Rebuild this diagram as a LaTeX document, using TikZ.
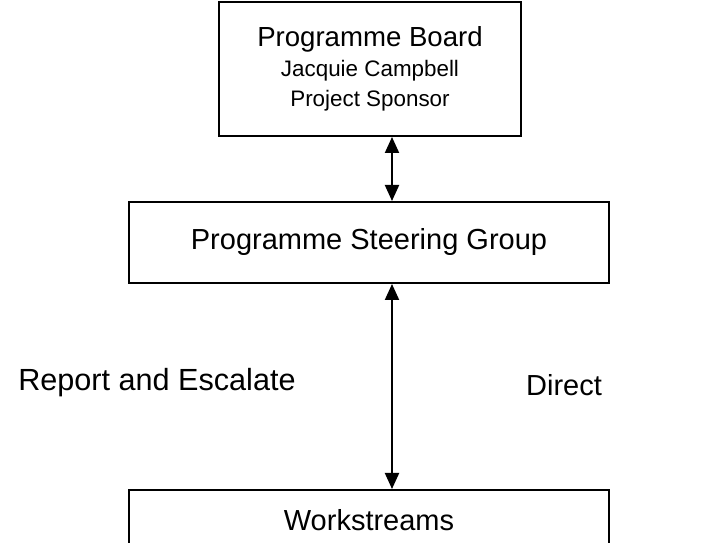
\documentclass[tikz,border=0pt]{standalone}
\usepackage{fontspec}
\setmainfont{Liberation Sans}
\usetikzlibrary{arrows.meta,positioning}

\newcommand\headfont{\fontsize{14.5bp}{15bp}\selectfont}
\newcommand\boardfont{\fontsize{13.8bp}{15bp}\selectfont}
\newcommand\subfont{\fontsize{11.2bp}{15bp}\selectfont}

\tikzset{
  orgbox/.style={draw, line width=1bp, align=center, inner sep=0pt, font=\headfont},
  link/.style={line width=1bp, {Triangle[width=7bp,length=8bp]}-{Triangle[width=7bp,length=8bp]}},
  note/.style={inner sep=0pt, font=\headfont}
}

\begin{document}
\begin{tikzpicture}[x=0.5bp, y=-0.5bp]
    \clip (0,0) rectangle (719,543);
    % the three levels
    \node[orgbox, minimum width=151bp, minimum height=67bp] (board) at (370,69)
      {\boardfont Programme Board\\ \subfont Jacquie Campbell\\ \subfont Project Sponsor};
    \node[orgbox, minimum width=240bp, minimum height=40.5bp] (steer) at (369,242.5)
      {Programme Steering Group};
    \node[orgbox, minimum width=240bp, minimum height=30bp] (work) at (369,520)
      {Workstreams};
    % reporting lines
    \coordinate (axis) at (392,0);
    \draw[link] (board.south -| axis) -- (steer.north -| axis);
    \draw[link] (steer.south -| axis) -- (work.north -| axis);
    \node[note, font=\fontsize{15.3bp}{16bp}\selectfont] (up) at (157,383) {Report and Escalate};
    \node[note] (down) at (564,385) {Direct};
\end{tikzpicture}
\end{document}
